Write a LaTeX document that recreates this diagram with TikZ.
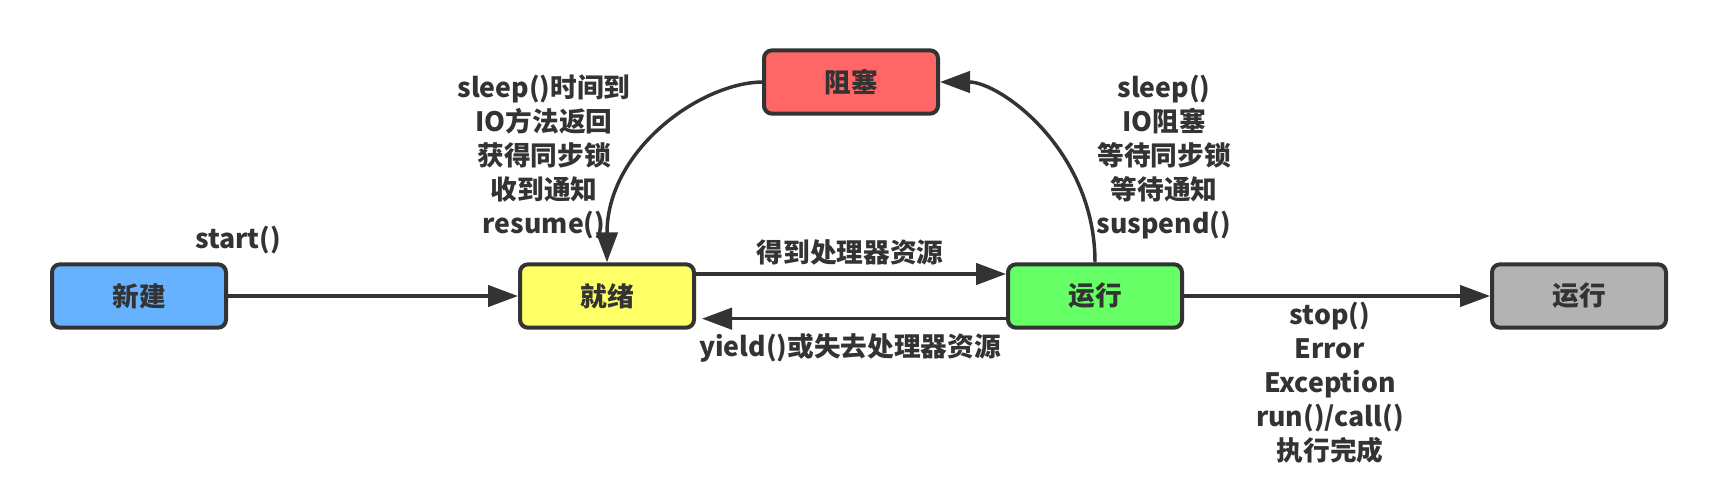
\documentclass[tikz,border=0pt]{standalone}
\usepackage{fontspec}
\setmainfont{Noto Sans CJK SC}
\usetikzlibrary{arrows.meta}
\definecolor{ink}{HTML}{333333}
\definecolor{cblue}{HTML}{66B2FF}
\definecolor{cyellow}{HTML}{FFFF66}
\definecolor{cred}{HTML}{FF6666}
\definecolor{cgreen}{HTML}{66FF66}
\definecolor{cgrey}{HTML}{B3B3B3}
\tikzset{
  state/.style={draw=ink, line width=3pt, rounded corners=6pt, minimum width=130.5pt, minimum height=47.5pt, font=\fontsize{20}{24}\selectfont\bfseries, text=ink, inner sep=0pt},
  lbl/.style={font=\fontsize{20}{25.5}\selectfont\bfseries, text=ink, align=center, inner sep=0pt},
  conn/.style={draw=ink, line width=2.6pt, -{Triangle[length=22.5pt,width=16pt]}},
}
\begin{document}
\begin{tikzpicture}[x=0.75pt,y=-0.75pt]
\useasboundingbox (0,0) rectangle (1717,494);
\node[state, fill=cblue]   (new)     at (139,296) {新建};
\node[state, fill=cyellow] (ready)   at (607,296) {就绪};
\node[state, fill=cgreen]  (run)     at (1095,296) {运行};
\node[state, fill=cgrey]   (dead)    at (1579,296) {运行};
\node[state, fill=cred]    (blocked) at (851,82) {阻塞};

\node[lbl] (lstart) at (238,240) {start()};
\node[lbl] (lwake) at (544,157) {sleep()时间到\\IO方法返回\\获得同步锁\\收到通知\\resume()};
\node[lbl] (lblock) at (1164,157) {sleep()\\IO阻塞\\等待同步锁\\等待通知\\suspend()};
\node[lbl] (lget) at (850,252) {得到处理器资源};
\node[lbl] (lyield) at (850,348) {yield()或失去处理器资源};
\node[lbl] (lend) at (1330,383) {stop()\\Error\\Exception\\run()/call()\\执行完成};

\draw[conn] (new.east) -- (ready.west);
\draw[conn] ([yshift=16.5pt]ready.east) -- ([yshift=16.5pt]run.west);
\draw[conn, shorten >=4.5pt] ([yshift=-17pt]run.west) -- ([yshift=-17pt]ready.east);
\draw[conn] (run.east) -- (dead.west);
\draw[conn] (blocked.west) .. controls (700,83) and (607,150) .. (ready.north);
\draw[conn] (run.north) .. controls (1095,150) and (1000,82) .. (blocked.east);
\end{tikzpicture}
\end{document}
